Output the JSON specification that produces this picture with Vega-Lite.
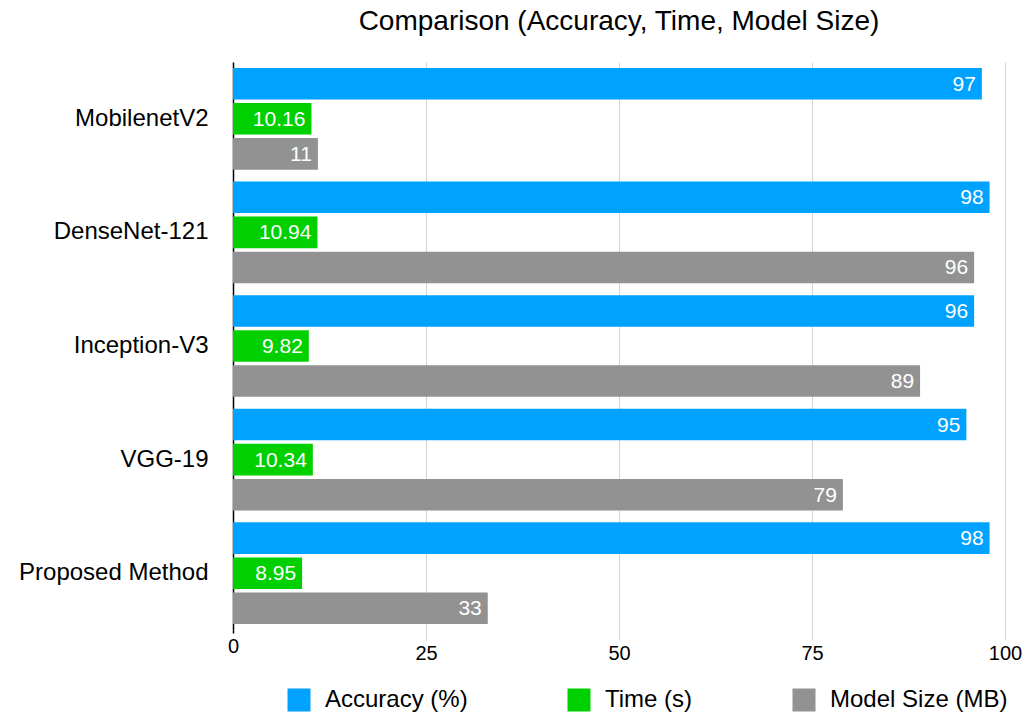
{
  "$schema": "https://vega.github.io/schema/vega-lite/v6.json",
  "width": 772,
  "height": 568,
  "autosize": {"type": "none"},
  "padding": {"left": 233, "top": 62, "right": 21, "bottom": 85},
  "background": "white",
  "title": {
    "text": "Comparison (Accuracy, Time, Model Size)",
    "fontSize": 28,
    "font": "Liberation Sans",
    "fontWeight": "normal",
    "color": "black",
    "offset": 26,
    "anchor": "middle"
  },
  "config": {"view": {"stroke": null}, "font": "Liberation Sans"},
  "data": {
    "values": [
      {"model": "MobilenetV2", "metric": "Accuracy (%)", "value": 97},
      {"model": "MobilenetV2", "metric": "Time (s)", "value": 10.16},
      {"model": "MobilenetV2", "metric": "Model Size (MB)", "value": 11},
      {"model": "DenseNet-121", "metric": "Accuracy (%)", "value": 98},
      {"model": "DenseNet-121", "metric": "Time (s)", "value": 10.94},
      {"model": "DenseNet-121", "metric": "Model Size (MB)", "value": 96},
      {"model": "Inception-V3", "metric": "Accuracy (%)", "value": 96},
      {"model": "Inception-V3", "metric": "Time (s)", "value": 9.82},
      {"model": "Inception-V3", "metric": "Model Size (MB)", "value": 89},
      {"model": "VGG-19", "metric": "Accuracy (%)", "value": 95},
      {"model": "VGG-19", "metric": "Time (s)", "value": 10.34},
      {"model": "VGG-19", "metric": "Model Size (MB)", "value": 79},
      {"model": "Proposed Method", "metric": "Accuracy (%)", "value": 98},
      {"model": "Proposed Method", "metric": "Time (s)", "value": 8.95},
      {"model": "Proposed Method", "metric": "Model Size (MB)", "value": 33}
    ]
  },
  "encoding": {
    "y": {
      "field": "model",
      "type": "nominal",
      "sort": ["MobilenetV2", "DenseNet-121", "Inception-V3", "VGG-19", "Proposed Method"],
      "scale": {"paddingInner": 0, "paddingOuter": 0},
      "axis": {
        "title": null,
        "ticks": false,
        "labelPadding": 25,
        "labelFontSize": 24,
        "labelLimit": 0,
        "labelColor": "black",
        "domainColor": "black",
        "domainWidth": 1.5
      }
    },
    "yOffset": {
      "field": "metric",
      "type": "nominal",
      "sort": ["Accuracy (%)", "Time (s)", "Model Size (MB)"],
      "scale": {"paddingInner": 0.1, "paddingOuter": 0.17}
    },
    "x": {
      "field": "value",
      "type": "quantitative",
      "scale": {"domain": [0, 100], "nice": false},
      "axis": {
        "title": null,
        "values": [0, 25, 50, 75, 100],
        "grid": true,
        "gridColor": "#d4d4d4",
        "gridWidth": 1,
        "domain": false,
        "tickSize": {"condition": {"test": "datum.value === 0", "value": 3}, "value": 10},
        "tickColor": {"condition": {"test": "datum.value === 0", "value": "black"}, "value": "#d4d4d4"},
        "tickWidth": {"condition": {"test": "datum.value === 0", "value": 1.5}, "value": 1},
        "labelFontSize": 20,
        "labelFlush": false,
        "labelColor": "black",
        "labelPadding": 3
      }
    }
  },
  "layer": [
    {
      "mark": {"type": "bar"},
      "encoding": {
        "color": {
          "field": "metric",
          "type": "nominal",
          "sort": ["Accuracy (%)", "Time (s)", "Model Size (MB)"],
          "scale": {
            "domain": ["Accuracy (%)", "Time (s)", "Model Size (MB)"],
            "range": ["#00A2FF", "#00D000", "#929292"]
          },
          "legend": {
            "orient": "none",
            "legendX": 54,
            "legendY": 626,
            "direction": "horizontal",
            "title": null,
            "symbolType": "square",
            "symbolSize": 529,
            "symbolStrokeWidth": 0,
            "labelFontSize": 24,
            "labelColor": "black",
            "labelOffset": 14,
            "columnPadding": 99,
            "labelLimit": 0,
            "padding": 0
          }
        }
      }
    },
    {
      "mark": {
        "type": "text",
        "align": "right",
        "baseline": "middle",
        "dx": -6,
        "dy": 1,
        "color": "white",
        "fontSize": 21
      },
      "encoding": {"text": {"field": "value", "type": "nominal"}}
    }
  ]
}
